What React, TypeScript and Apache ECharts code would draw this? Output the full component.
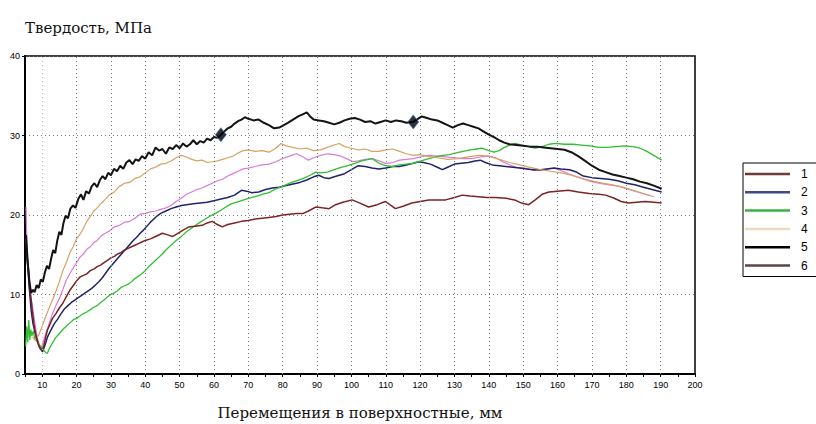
import React, { useEffect, useRef } from "react";
import * as echarts from "echarts";

// Hardness (MPa) versus surface displacement (mm) for six test runs.
const seriesNames = ["1", "2", "3", "4", "5", "6"];

const run1: [number, number][] = [
  [5.3, 21.0], [5.6, 15.5], [5.9, 13.0], [6.2, 11.0], [6.6, 9.8], [7.0, 9.0], [7.5, 7.5], [8.0, 6.0],
  [8.6, 4.6], [9.2, 3.5], [9.6, 3.0], [10.2, 3.9], [11.0, 5.0], [12.0, 6.3], [13.0, 7.6], [14.0, 8.6],
  [15.0, 9.5], [16.0, 10.6], [17.0, 11.8], [18.0, 12.6], [19.0, 13.3], [20.0, 14.0], [21.0, 14.7],
  [22.0, 15.1], [23.0, 15.7], [24.0, 16.0], [25.0, 16.5], [26.0, 16.8], [27.0, 17.3], [28.0, 17.6],
  [29.5, 18.0], [31.0, 18.5], [32.5, 18.7], [34.0, 19.1], [35.5, 19.2], [37.0, 19.6], [38.5, 20.1],
  [40.0, 20.2], [41.5, 20.4], [43.0, 20.5], [44.5, 20.7], [46.0, 20.9], [47.5, 21.2], [49.0, 21.7],
  [50.5, 22.1], [52.0, 22.6], [53.5, 22.9], [55.0, 23.2], [56.5, 23.4], [58.0, 23.7], [59.5, 24.0],
  [61.0, 24.3], [62.5, 24.5], [64.0, 24.9], [65.5, 25.2], [67.0, 25.5], [68.5, 25.8], [70.0, 25.9],
  [72.0, 26.1], [74.0, 26.3], [76.0, 26.4], [78.0, 26.7], [80.0, 27.1], [82.0, 27.4], [84.0, 27.7],
  [86.0, 27.3], [87.5, 26.9], [89.0, 27.2], [91.0, 27.5], [93.0, 27.7], [95.0, 27.6], [97.0, 27.4],
  [99.0, 27.0], [100.5, 26.7], [102.0, 26.8], [104.0, 27.0], [106.0, 27.1], [108.0, 26.8], [110.0, 26.5],
  [112.0, 26.6], [114.0, 26.9], [116.0, 27.0], [118.0, 27.1], [120.0, 27.3], [122.5, 27.5], [125.0, 27.4],
  [127.5, 27.3], [130.0, 27.2], [132.5, 27.1], [135.0, 27.1], [137.5, 27.3], [140.0, 27.4], [142.0, 27.2],
  [144.0, 26.7], [146.0, 26.3], [148.0, 26.0], [150.5, 25.9], [153.0, 25.6], [155.0, 25.6], [157.0, 25.8],
  [159.0, 25.9], [161.0, 25.6], [163.0, 25.2], [165.0, 24.9], [167.0, 24.6], [169.0, 24.3], [172.0, 24.0],
  [175.0, 23.8], [178.0, 23.6], [181.0, 23.2], [184.0, 22.8], [187.0, 22.4],
];

const run2: [number, number][] = [
  [5.5, 15.0], [5.9, 13.0], [6.3, 10.5], [6.8, 8.0], [7.3, 6.4], [7.9, 5.2], [8.5, 4.3], [9.2, 3.4],
  [10.1, 2.8], [10.8, 3.6], [11.6, 4.7], [12.5, 5.5], [13.5, 6.3], [14.5, 6.9], [15.5, 7.6], [16.5, 8.2],
  [17.5, 8.6], [18.5, 9.0], [19.5, 9.3], [20.5, 9.6], [21.5, 9.9], [22.5, 10.2], [23.5, 10.5], [24.5, 10.8],
  [25.5, 11.2], [26.5, 11.6], [27.5, 12.1], [28.5, 12.7], [29.5, 13.3], [30.5, 13.8], [31.5, 14.3],
  [32.5, 14.8], [33.5, 15.3], [34.5, 15.8], [35.5, 16.3], [36.5, 16.8], [37.5, 17.2], [38.5, 17.7],
  [39.5, 18.1], [40.5, 18.6], [41.5, 19.1], [42.5, 19.5], [43.5, 19.9], [44.5, 20.2], [46.0, 20.5],
  [47.5, 20.8], [49.0, 21.0], [50.5, 21.2], [52.0, 21.3], [54.0, 21.4], [56.0, 21.5], [58.0, 21.6],
  [60.0, 21.8], [62.0, 22.0], [64.0, 22.2], [66.0, 22.5], [68.0, 23.1], [69.5, 23.0], [71.0, 22.8],
  [73.0, 22.9], [75.0, 23.2], [77.0, 23.4], [79.0, 23.5], [81.0, 23.7], [83.0, 23.9], [85.0, 24.1],
  [87.0, 24.4], [89.0, 24.8], [90.5, 25.0], [92.0, 24.7], [93.5, 24.6], [95.0, 24.8], [96.5, 25.0],
  [98.0, 25.2], [100.0, 25.7], [102.0, 26.2], [104.0, 26.1], [106.0, 25.9], [108.0, 25.8], [110.0, 25.9],
  [112.0, 26.1], [114.0, 26.1], [116.0, 26.3], [118.0, 26.5], [119.6, 26.7], [121.0, 26.6], [123.0, 26.4],
  [125.0, 26.0], [126.5, 25.7], [128.0, 26.0], [130.0, 26.4], [132.0, 26.5], [134.0, 26.6], [136.0, 26.8],
  [137.5, 26.9], [139.0, 26.6], [141.0, 26.3], [143.0, 26.2], [145.0, 26.1], [147.0, 26.0], [149.0, 25.9],
  [151.0, 25.8], [153.0, 25.7], [155.0, 25.7], [157.0, 25.8], [159.0, 25.9], [161.0, 25.8], [163.5, 25.7],
  [165.5, 25.4], [167.5, 24.9], [170.0, 24.7], [172.5, 24.6], [175.0, 24.5], [177.5, 24.3], [180.0, 24.0],
  [182.5, 23.8], [185.0, 23.5], [187.5, 23.2], [190.3, 22.9],
];

const run3: [number, number][] = [
  [5.2, 3.5], [5.5, 6.0], [5.8, 4.0], [6.1, 6.8], [6.4, 4.3], [6.7, 5.6], [7.0, 4.8], [7.4, 5.4],
  [7.8, 4.6], [8.3, 4.2], [8.8, 3.9], [9.5, 3.5], [10.2, 3.2], [11.0, 2.7], [11.5, 2.6], [12.2, 3.3],
  [13.0, 3.9], [14.0, 4.6], [15.0, 5.1], [16.0, 5.6], [17.0, 6.0], [18.0, 6.4], [19.0, 6.8], [20.0, 7.0],
  [21.0, 7.3], [22.0, 7.6], [23.0, 7.8], [24.0, 8.1], [25.0, 8.4], [26.0, 8.6], [27.0, 9.0], [28.0, 9.3],
  [29.0, 9.7], [30.0, 10.0], [31.0, 10.2], [32.0, 10.5], [33.0, 10.9], [34.0, 11.1], [35.0, 11.3],
  [36.0, 11.6], [37.0, 12.0], [38.0, 12.3], [39.0, 12.6], [40.0, 13.0], [41.0, 13.5], [42.0, 13.9],
  [43.0, 14.3], [44.0, 14.7], [45.0, 15.1], [46.0, 15.6], [47.0, 16.0], [48.0, 16.4], [49.0, 16.8],
  [50.0, 17.1], [51.0, 17.5], [52.0, 17.9], [53.0, 18.2], [54.0, 18.5], [55.0, 18.8], [56.0, 19.1],
  [57.5, 19.5], [59.0, 19.9], [60.5, 20.2], [62.0, 20.6], [63.5, 21.0], [65.0, 21.4], [66.5, 21.6],
  [68.0, 21.8], [70.0, 22.1], [72.0, 22.3], [74.0, 22.6], [76.0, 22.8], [78.0, 23.3], [80.0, 23.6],
  [82.0, 24.0], [84.0, 24.3], [86.0, 24.6], [88.0, 25.0], [89.6, 25.4], [91.0, 25.3], [93.0, 25.4],
  [95.0, 25.7], [97.0, 26.0], [99.0, 26.2], [101.0, 26.5], [103.0, 26.8], [105.0, 27.0], [106.0, 27.1],
  [108.0, 26.5], [110.0, 26.2], [112.0, 26.1], [114.0, 26.3], [116.0, 26.4], [118.0, 26.5], [119.6, 26.7],
  [121.0, 26.9], [122.5, 27.1], [124.5, 27.3], [126.5, 27.5], [128.5, 27.6], [130.5, 27.8], [132.5, 28.0],
  [134.5, 28.2], [136.5, 28.3], [138.0, 28.4], [140.0, 28.1], [141.5, 27.9], [143.0, 28.1], [144.5, 28.5],
  [146.0, 28.8], [147.7, 29.0], [149.5, 28.8], [151.5, 28.6], [153.5, 28.4], [155.5, 28.6], [157.5, 28.9],
  [159.5, 29.0], [162.0, 28.9], [164.5, 28.9], [167.0, 28.8], [169.5, 28.7], [172.0, 28.5], [174.5, 28.5],
  [177.0, 28.6], [179.5, 28.7], [182.0, 28.6], [184.0, 28.4], [186.0, 28.0], [188.0, 27.5], [190.3, 26.9],
];

const run4: [number, number][] = [
  [7.2, 4.7], [8.0, 4.2], [9.0, 4.9], [10.0, 6.0], [11.0, 7.2], [12.0, 8.3], [13.0, 9.3], [14.0, 10.4],
  [15.0, 11.6], [16.0, 13.0], [17.0, 14.0], [18.0, 15.2], [19.0, 16.0], [20.0, 17.0], [21.0, 17.6],
  [22.0, 18.3], [23.0, 19.2], [24.0, 19.8], [25.0, 20.5], [26.0, 20.9], [27.0, 21.4], [28.0, 21.8],
  [29.5, 22.5], [31.0, 22.9], [32.5, 23.6], [34.0, 24.0], [35.5, 24.1], [37.0, 24.6], [38.5, 24.8],
  [40.0, 25.3], [41.5, 25.8], [43.0, 26.0], [44.5, 26.4], [46.0, 26.5], [47.5, 26.8], [49.0, 27.2],
  [50.5, 27.5], [52.0, 27.3], [53.5, 27.0], [55.0, 26.8], [56.5, 26.9], [58.0, 26.6], [59.5, 26.7],
  [61.0, 26.8], [62.5, 27.0], [64.0, 27.2], [65.5, 27.4], [67.0, 27.8], [68.5, 28.1], [70.0, 28.2],
  [72.0, 28.0], [74.0, 28.1], [76.0, 27.9], [78.0, 28.4], [79.5, 29.0], [81.0, 28.7], [83.0, 28.5],
  [85.0, 28.3], [87.0, 28.4], [89.0, 28.1], [91.0, 28.2], [93.0, 28.5], [95.0, 28.8], [96.5, 29.0],
  [98.0, 28.6], [100.0, 28.4], [102.0, 28.2], [104.0, 28.3], [106.0, 28.0], [108.0, 28.0], [110.0, 28.2],
  [112.0, 28.3], [114.0, 28.0], [116.0, 27.7], [118.0, 27.5], [120.0, 27.6], [122.0, 27.4], [125.0, 27.2],
  [128.0, 27.0], [131.0, 27.1], [134.0, 27.3], [137.0, 27.5], [140.0, 27.4], [143.0, 27.0], [146.0, 26.6],
  [149.0, 26.3], [152.0, 26.0], [155.0, 25.7], [158.0, 25.5], [161.0, 25.3], [164.0, 25.0], [167.0, 24.6],
  [170.0, 24.3], [173.0, 24.0], [176.0, 23.8], [179.0, 23.5], [182.0, 23.1], [185.0, 22.7], [188.0, 22.3],
];

const run5: [number, number][] = [
  [5.3, 17.5], [5.8, 14.0], [6.3, 11.5], [6.8, 10.2], [7.3, 10.6], [7.8, 10.3], [8.4, 11.2], [9.0, 10.8],
  [9.6, 11.9], [10.2, 11.6], [10.8, 12.8], [11.4, 13.6], [12.0, 13.2], [12.6, 14.5], [13.2, 15.6],
  [13.8, 15.2], [14.4, 16.8], [15.0, 17.9], [15.6, 17.5], [16.2, 19.0], [16.8, 19.9], [17.5, 19.6],
  [18.2, 20.8], [19.0, 21.2], [19.7, 20.9], [20.5, 22.0], [21.3, 22.6], [22.0, 21.9], [22.8, 23.0],
  [23.6, 22.7], [24.4, 23.6], [25.2, 24.0], [26.0, 23.5], [26.8, 24.4], [27.6, 24.9], [28.4, 24.5],
  [29.2, 25.3], [30.0, 25.0], [30.9, 25.8], [31.8, 25.5], [32.7, 26.2], [33.6, 25.8], [34.5, 26.6],
  [35.4, 26.9], [36.3, 26.4], [37.2, 27.0], [38.1, 26.8], [39.0, 27.4], [40.0, 27.1], [41.0, 27.9],
  [42.0, 27.5], [43.0, 28.5], [44.0, 28.1], [45.0, 28.3], [46.0, 27.7], [47.0, 28.5], [48.0, 28.3],
  [49.0, 28.8], [50.0, 28.4], [51.0, 29.0], [52.0, 28.6], [53.0, 28.9], [54.0, 29.4], [55.0, 28.9],
  [56.0, 29.3], [57.0, 29.1], [58.0, 29.6], [59.0, 29.4], [60.0, 29.8], [61.0, 29.7], [62.0, 30.1],
  [63.0, 30.5], [64.0, 30.9], [65.0, 31.1], [66.0, 31.5], [67.0, 31.8], [68.0, 32.0], [69.0, 32.3],
  [70.0, 32.1], [71.5, 31.9], [73.0, 32.0], [74.5, 31.6], [76.0, 31.3], [77.5, 30.9], [79.0, 31.0],
  [81.5, 31.6], [83.0, 32.0], [84.5, 32.4], [86.0, 32.7], [87.0, 32.9], [88.0, 32.4], [89.0, 32.0],
  [90.5, 31.9], [92.0, 31.8], [93.5, 31.6], [95.0, 31.4], [96.5, 31.6], [98.0, 31.9], [99.5, 32.1],
  [101.0, 32.2], [102.5, 32.0], [104.0, 31.7], [105.5, 31.8], [107.0, 31.5], [108.5, 31.7], [110.0, 31.9],
  [111.5, 31.7], [113.0, 31.9], [114.5, 31.8], [116.0, 31.6], [118.0, 31.7], [119.0, 32.0], [120.5, 32.4],
  [122.0, 32.2], [123.5, 32.0], [125.0, 31.9], [126.5, 31.6], [128.0, 31.3], [129.5, 31.0], [131.0, 31.3],
  [132.5, 31.5], [134.0, 31.3], [135.5, 31.1], [137.0, 30.9], [138.5, 30.5], [140.0, 30.1], [141.5, 29.8],
  [143.0, 29.4], [144.5, 29.1], [146.0, 28.9], [148.0, 28.8], [150.0, 28.7], [152.0, 28.6], [154.0, 28.6],
  [156.0, 28.5], [158.0, 28.4], [160.0, 28.3], [162.0, 28.2], [164.0, 27.9], [166.0, 27.4], [168.0, 26.8],
  [170.0, 26.2], [172.0, 25.7], [174.0, 25.4], [176.0, 25.1], [178.0, 24.9], [180.0, 24.7], [182.0, 24.5],
  [184.0, 24.2], [186.0, 24.0], [188.0, 23.7], [190.3, 23.3],
];

const run6: [number, number][] = [
  [5.2, 17.0], [5.5, 15.5], [5.8, 14.0], [6.1, 12.8], [6.4, 11.0], [6.7, 9.7], [7.1, 8.0], [7.6, 6.3],
  [8.2, 4.8], [8.8, 3.8], [9.4, 3.2], [10.1, 3.0], [10.7, 4.0], [11.5, 5.5], [12.3, 6.3], [13.0, 7.0],
  [14.0, 7.6], [15.0, 8.3], [16.0, 8.9], [17.0, 9.7], [18.0, 10.5], [19.0, 11.1], [20.0, 11.7],
  [21.0, 12.2], [22.0, 12.4], [23.0, 12.6], [24.0, 13.0], [25.0, 13.2], [26.0, 13.5], [27.0, 13.7],
  [28.0, 14.0], [29.0, 14.3], [30.0, 14.6], [31.0, 14.8], [32.0, 15.1], [33.0, 15.3], [34.0, 15.6],
  [35.0, 15.8], [36.0, 16.0], [37.0, 16.2], [38.0, 16.4], [39.0, 16.6], [40.0, 16.8], [41.5, 17.0],
  [43.0, 17.3], [45.0, 17.7], [46.5, 17.5], [48.0, 17.3], [49.5, 17.7], [51.0, 18.1], [52.7, 18.5],
  [54.5, 18.6], [56.6, 18.7], [58.0, 19.0], [59.5, 19.2], [61.0, 18.8], [62.4, 18.5], [64.0, 18.8],
  [66.0, 19.0], [68.0, 19.2], [70.0, 19.3], [72.0, 19.5], [74.0, 19.6], [76.0, 19.7], [78.0, 19.8],
  [80.0, 20.0], [82.0, 20.1], [84.0, 20.2], [86.0, 20.2], [87.5, 20.5], [89.6, 21.0], [91.5, 20.9],
  [93.5, 20.8], [95.4, 21.3], [97.5, 21.6], [100.2, 21.9], [102.5, 21.5], [105.0, 21.0], [107.5, 21.3],
  [109.9, 21.7], [111.5, 21.2], [112.8, 20.8], [115.0, 21.1], [117.6, 21.5], [120.0, 21.7], [122.5, 21.9],
  [125.0, 21.9], [127.4, 21.9], [130.0, 22.2], [132.2, 22.5], [134.5, 22.4], [137.0, 22.3], [139.5, 22.2],
  [142.0, 22.2], [145.0, 22.1], [147.5, 21.9], [149.5, 21.5], [151.6, 21.3], [153.5, 21.9], [155.5, 22.6],
  [157.5, 22.9], [160.0, 23.0], [163.2, 23.1], [166.0, 22.9], [169.2, 22.7], [172.0, 22.6], [174.0, 22.5],
  [176.5, 22.1], [178.5, 21.7], [180.6, 21.5], [183.0, 21.6], [185.5, 21.7], [188.0, 21.6], [190.3, 21.5],
];

// Reference marks placed on run 5
const run5Markers: [number, number][] = [
  [62, 30.1],
  [118, 31.7],
];

// Vertical reference lines, every 10 mm
const verticalGrid = [10, 20, 30, 40, 50, 60, 70, 80, 90, 100, 110, 120, 130, 140, 150, 160, 170, 180, 190];

const lineColors = ["#d97bd9", "#1f2468", "#2fbf2f", "#d6a264", "#141414", "#7c2424"];
const lineWidths = [1.2, 1.5, 1.3, 1.2, 2, 1.5];
const legendColors = ["#6e3b3b", "#3c4a8c", "#3cb043", "#eedbbf", "#000000", "#5a4545"];
const runs = [run1, run2, run3, run4, run5, run6];

export default function App() {
  const ref = useRef<HTMLDivElement>(null);

  useEffect(() => {
    if (!ref.current) return;
    const chart = echarts.init(ref.current, undefined, { renderer: "svg" });

    const lineSeries = runs.map((data, i) => ({
      name: seriesNames[i],
      type: "line",
      data,
      symbol: "none",
      z: 3 + (i === 4 ? 2 : 0),
      lineStyle: { color: lineColors[i], width: lineWidths[i] },
      itemStyle: { color: lineColors[i] },
    }));

    chart.setOption({
      animation: false,
      backgroundColor: "#ffffff",
      title: {
        text: "Твердость, МПа",
        left: 20,
        top: 15,
        textStyle: {
          fontFamily: "DejaVu Serif",
          fontSize: 15,
          fontWeight: "normal",
          color: "#111",
        },
      },
      grid: {
        left: 25,
        right: 121,
        top: 56,
        bottom: 50,
        outerBoundsMode: "none",
        containLabel: false,
        show: true,
        borderColor: "#000",
        borderWidth: 1.5,
        backgroundColor: "#fff",
      },
      legend: {
        orient: "vertical",
        left: 743,
        top: 163,
        padding: [4, 20, 4, 2],
        borderColor: "#000",
        borderWidth: 1,
        icon: "rect",
        itemWidth: 45,
        itemHeight: 2.5,
        itemGap: 4.3,
        textStyle: {
          fontFamily: "Liberation Sans",
          fontSize: 12,
          lineHeight: 14,
          color: "#000",
          padding: [0, 0, 0, 6],
        },
        data: seriesNames.map((n, i) => ({ name: n, itemStyle: { color: legendColors[i] } })),
      },
      xAxis: {
        type: "value",
        min: 5,
        max: 200,
        interval: 5,
        name: "Перемещения в поверхностные, мм",
        nameLocation: "middle",
        nameGap: 31,
        nameTextStyle: {
          fontFamily: "DejaVu Serif",
          fontSize: 15,
          color: "#111",
        },
        axisLine: { lineStyle: { color: "#000", width: 2 } },
        axisTick: { show: true, length: 3, lineStyle: { color: "#000" } },
        axisLabel: {
          margin: 6,
          fontFamily: "Liberation Sans",
          fontSize: 9,
          color: "#000",
          formatter: (v: number) => (v % 10 === 0 ? String(v) : ""),
        },
        splitLine: { show: false },
      },
      yAxis: {
        type: "value",
        min: 0,
        max: 40,
        interval: 10,
        axisLine: { show: true, lineStyle: { color: "#000", width: 2 } },
        axisTick: { show: true, length: 3, lineStyle: { color: "#000" } },
        axisLabel: {
          margin: 5,
          fontFamily: "Liberation Sans",
          fontSize: 9,
          color: "#000",
        },
        splitLine: { show: true, lineStyle: { color: "#777", type: [1, 3], width: 1 } },
      },
      series: [
        {
          name: "grid",
          type: "line",
          data: [],
          z: 1,
          silent: true,
          markLine: {
            silent: true,
            symbol: "none",
            label: { show: false },
            lineStyle: { color: "#777", type: [1, 3], width: 1 },
            data: verticalGrid.map((x) => ({
              xAxis: x,
              lineStyle: x === 10 ? { color: "#bbb", type: [1, 3], width: 1 } : undefined,
            })),
          },
        },
        ...lineSeries,
        {
          name: "markers",
          type: "scatter",
          data: run5Markers,
          symbol: "diamond",
          symbolSize: [11, 14],
          z: 10,
          itemStyle: { color: "#000", borderColor: "#3a6fd0", borderWidth: 0.8 },
        },
      ],
    });

    return () => chart.dispose();
  }, []);

  return (
    <div
      ref={ref}
      style={{ position: "fixed", left: 0, top: 0, width: 816, height: 424, background: "#fff" }}
    />
  );
}
